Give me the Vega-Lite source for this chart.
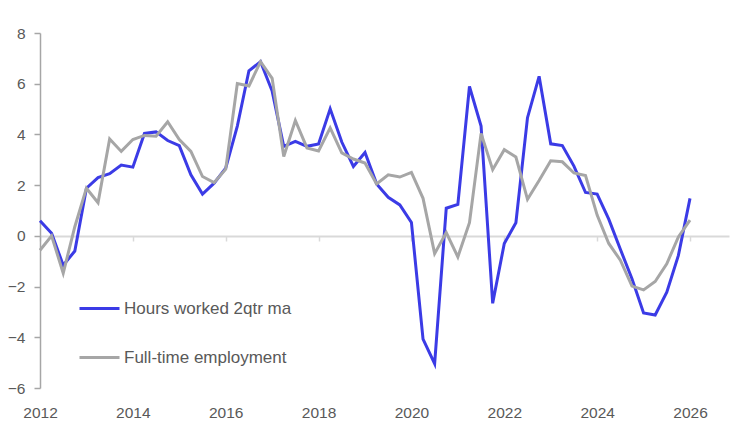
{
  "$schema": "https://vega.github.io/schema/vega-lite/v6.json",
  "width": 689,
  "height": 355,
  "autosize": "none",
  "padding": {"left": 40, "top": 33, "right": 21, "bottom": 48},
  "background": "white",
  "config": {"view": {"stroke": null}, "font": "Liberation Sans"},
  "datasets": {
    "hours": [
      {"t":2012.00,"v":0.60},{"t":2012.25,"v":0.10},{"t":2012.50,"v":-1.16},{"t":2012.75,"v":-0.60},
      {"t":2013.00,"v":1.88},{"t":2013.25,"v":2.30},{"t":2013.50,"v":2.45},{"t":2013.75,"v":2.79},
      {"t":2014.00,"v":2.71},{"t":2014.25,"v":4.04},{"t":2014.50,"v":4.10},{"t":2014.75,"v":3.76},
      {"t":2015.00,"v":3.56},{"t":2015.25,"v":2.41},{"t":2015.50,"v":1.65},{"t":2015.75,"v":2.08},
      {"t":2016.00,"v":2.67},{"t":2016.25,"v":4.33},{"t":2016.50,"v":6.51},{"t":2016.75,"v":6.87},
      {"t":2017.00,"v":5.71},{"t":2017.25,"v":3.53},{"t":2017.50,"v":3.73},{"t":2017.75,"v":3.53},
      {"t":2018.00,"v":3.62},{"t":2018.25,"v":5.01},{"t":2018.50,"v":3.70},{"t":2018.75,"v":2.74},
      {"t":2019.00,"v":3.29},{"t":2019.25,"v":2.05},{"t":2019.50,"v":1.52},{"t":2019.75,"v":1.22},
      {"t":2020.00,"v":0.53},{"t":2020.25,"v":-4.07},{"t":2020.50,"v":-5.04},{"t":2020.75,"v":1.09},
      {"t":2021.00,"v":1.24},{"t":2021.25,"v":5.89},{"t":2021.50,"v":4.33},{"t":2021.75,"v":-2.66},
      {"t":2022.00,"v":-0.30},{"t":2022.25,"v":0.52},{"t":2022.50,"v":4.66},{"t":2022.75,"v":6.29},
      {"t":2023.00,"v":3.63},{"t":2023.25,"v":3.56},{"t":2023.50,"v":2.75},{"t":2023.75,"v":1.71},
      {"t":2024.00,"v":1.65},{"t":2024.25,"v":0.66},{"t":2024.50,"v":-0.53},{"t":2024.75,"v":-1.69},
      {"t":2025.00,"v":-3.04},{"t":2025.25,"v":-3.12},{"t":2025.50,"v":-2.22},{"t":2025.75,"v":-0.77},
      {"t":2026.00,"v":1.48}
    ],
    "fulltime": [
      {"t":2012.00,"v":-0.57},{"t":2012.25,"v":0.00},{"t":2012.50,"v":-1.47},{"t":2012.75,"v":0.36},
      {"t":2013.00,"v":1.88},{"t":2013.25,"v":1.31},{"t":2013.50,"v":3.82},{"t":2013.75,"v":3.33},
      {"t":2014.00,"v":3.80},{"t":2014.25,"v":3.96},{"t":2014.50,"v":3.93},{"t":2014.75,"v":4.50},
      {"t":2015.00,"v":3.80},{"t":2015.25,"v":3.33},{"t":2015.50,"v":2.34},{"t":2015.75,"v":2.10},
      {"t":2016.00,"v":2.63},{"t":2016.25,"v":6.01},{"t":2016.50,"v":5.91},{"t":2016.75,"v":6.87},
      {"t":2017.00,"v":6.21},{"t":2017.25,"v":3.13},{"t":2017.50,"v":4.55},{"t":2017.75,"v":3.47},
      {"t":2018.00,"v":3.35},{"t":2018.25,"v":4.26},{"t":2018.50,"v":3.27},{"t":2018.75,"v":3.03},
      {"t":2019.00,"v":2.87},{"t":2019.25,"v":2.05},{"t":2019.50,"v":2.41},{"t":2019.75,"v":2.32},
      {"t":2020.00,"v":2.50},{"t":2020.25,"v":1.48},{"t":2020.50,"v":-0.70},{"t":2020.75,"v":0.13},
      {"t":2021.00,"v":-0.83},{"t":2021.25,"v":0.52},{"t":2021.50,"v":4.04},{"t":2021.75,"v":2.61},
      {"t":2022.00,"v":3.40},{"t":2022.25,"v":3.11},{"t":2022.50,"v":1.44},{"t":2022.75,"v":2.18},
      {"t":2023.00,"v":2.96},{"t":2023.25,"v":2.92},{"t":2023.50,"v":2.48},{"t":2023.75,"v":2.38},
      {"t":2024.00,"v":0.82},{"t":2024.25,"v":-0.30},{"t":2024.50,"v":-0.96},{"t":2024.75,"v":-1.98},
      {"t":2025.00,"v":-2.13},{"t":2025.25,"v":-1.80},{"t":2025.50,"v":-1.10},{"t":2025.75,"v":-0.04},
      {"t":2026.00,"v":0.62}
    ]
  },
  "data": {"name": "hours"},
  "transform": [
    {"lookup": "t", "from": {"data": {"name": "fulltime"}, "key": "t", "fields": ["v"]}, "as": ["f"]},
    {"fold": ["v", "f"], "as": ["key", "value"]},
    {"calculate": "datum.key === 'v' ? 'Hours worked 2qtr ma' : 'Full-time employment'", "as": "series"}
  ],
  "mark": {"type": "line", "strokeWidth": 3, "strokeJoin": "miter", "strokeCap": "butt"},
  "encoding": {
    "x": {
      "field": "t", "type": "quantitative",
      "scale": {"domain": [2012, 2026.84], "nice": false, "zero": false},
      "axis": {
        "title": null, "values": [2012, 2014, 2016, 2018, 2020, 2022, 2024, 2026], "format": "d",
        "offset": -152, "domainColor": "#d9d9d9", "domainWidth": 2, "tickColor": "#d9d9d9", "tickWidth": 1.5, "tickSize": 5,
        "labelPadding": 164, "labelFontSize": 15.5, "labelColor": "#595959", "labelFlush": false, "grid": false
      }
    },
    "y": {
      "field": "value", "type": "quantitative",
      "scale": {"domain": [-6, 8], "nice": false},
      "axis": {
        "title": null, "values": [-6, -4, -2, 0, 2, 4, 6, 8],
        "domainColor": "#a6a6a6", "domainWidth": 1.5, "tickColor": "#a6a6a6", "tickWidth": 1.5, "tickSize": 6,
        "labelPadding": 9, "labelFontSize": 15.5, "labelColor": "#595959", "grid": false
      }
    },
    "color": {
      "field": "series", "type": "nominal",
      "scale": {"domain": ["Hours worked 2qtr ma", "Full-time employment"], "range": ["#3b3be6", "#a6a6a6"]},
      "legend": {
        "title": null, "orient": "none", "legendX": 38, "legendY": 254,
        "symbolType": "stroke", "symbolSize": 1600, "symbolStrokeWidth": 3,
        "labelFontSize": 17, "labelColor": "#595959", "labelOffset": 3, "rowPadding": 19, "labelLimit": 400
      }
    }
  }
}
